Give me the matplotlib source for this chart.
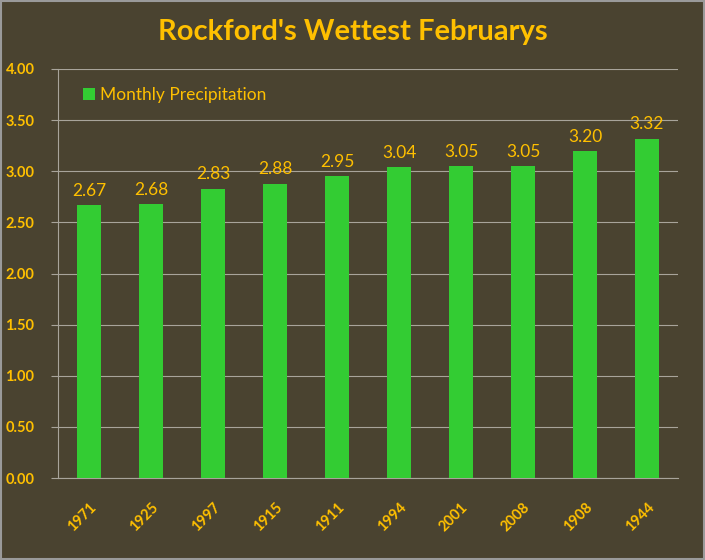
import matplotlib

matplotlib.use("Agg")
import matplotlib.pyplot as plt
from matplotlib.patches import Rectangle

BG = "#4a4330"
GOLD = "#ffc000"
GREEN = "#33cc33"
GRID = "#a8a49a"

years = ["1971", "1925", "1997", "1915", "1911", "1994", "2001", "2008", "1908", "1944"]
precip = [2.67, 2.68, 2.83, 2.88, 2.95, 3.04, 3.05, 3.05, 3.20, 3.32]
yticks = [0.0, 0.5, 1.0, 1.5, 2.0, 2.5, 3.0, 3.5, 4.0]

plt.rcParams["font.family"] = ["Lato", "DejaVu Sans"]

fig = plt.figure(figsize=(7.05, 5.6), dpi=100, facecolor=BG)
fig.patches.append(Rectangle((0.001, 0.001), 0.998, 0.998, transform=fig.transFigure,
                             fill=False, edgecolor="#9a9a9a", linewidth=1.5))
ax = fig.add_axes([0.0823, 0.1464, 0.8794, 0.7304], facecolor=BG)

xs = range(len(years))
ax.bar(xs, precip, width=0.39, color=GREEN, zorder=3, label="Monthly Precipitation")
for x, v in zip(xs, precip):
    ax.text(x, v + 0.06, f"{v:.2f}", ha="center", va="bottom", fontsize=12.5, color=GOLD)

ax.set_xlim(-0.5, len(years) - 0.5)
ax.set_ylim(0, 4.0)
ax.set_yticks(yticks, [f"{t:.2f}" for t in yticks])
ax.set_xticks(list(xs), years, rotation=45, ha="right", rotation_mode="anchor")
for lab in ax.get_xticklabels() + ax.get_yticklabels():
    lab.set_fontweight("bold")
    lab.set_color(GOLD)
    lab.set_fontsize(10.5)
ax.tick_params(axis="x", length=0, pad=16)
ax.tick_params(axis="y", length=5, color=GRID, pad=12)
ax.grid(axis="y", color=GRID, linewidth=0.8, zorder=0)
for side in ("top", "right"):
    ax.spines[side].set_visible(False)
for side in ("left", "bottom"):
    ax.spines[side].set_color(GRID)
    ax.spines[side].set_linewidth(0.8)

ax.legend(loc="upper left", bbox_to_anchor=(0.015, 0.995), frameon=False, fontsize=12.5,
          labelcolor=GOLD, handlelength=0.7, handleheight=0.7, handletextpad=0.3)

fig.text(0.5, 0.943, "Rockford's Wettest Februarys", ha="center", va="center",
         fontsize=21, fontweight="bold", color=GOLD)

fig.savefig("out.png", dpi=100, facecolor=BG)
